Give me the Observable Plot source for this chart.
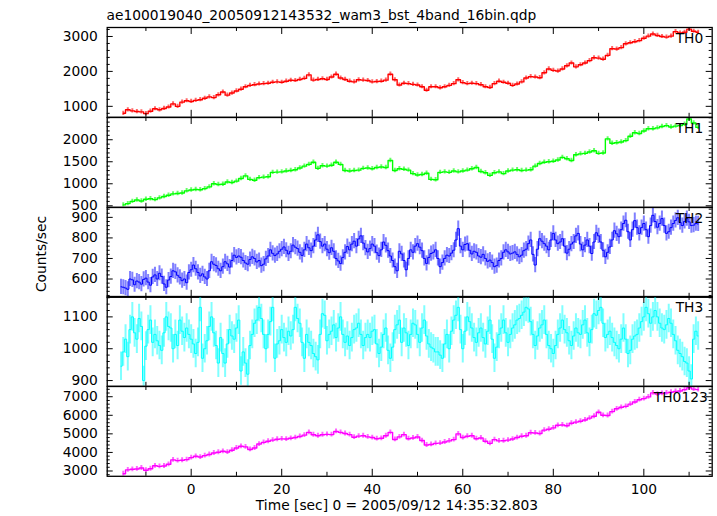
<!DOCTYPE html>
<html><head><meta charset="utf-8">
<script src="https://cdn.jsdelivr.net/npm/d3@7"></script>
<script src="https://cdn.jsdelivr.net/npm/@observablehq/plot@0.6"></script>
<style>
body{margin:0;background:#fff;}
#chart{position:relative;width:717px;height:516px;overflow:hidden;font-family:"DejaVu Sans",sans-serif;font-size:13.8px;color:#000;background:#fff;}
.txt{position:absolute;white-space:nowrap;line-height:1;}
.panel{position:absolute;left:0;}
</style></head><body><div id="chart"></div>
<script>
const titleText = "ae100019040_20050912143532_wam3_bst_4band_16bin.qdp";
const xLabel = "Time [sec] 0 = 2005/09/12 14:35:32.803";
const yLabel = "Counts/sec";
const panelNames = ["TH0", "TH1", "TH2", "TH3", "TH0123"];
const panelColors = ["#ff0000", "#00ff00", "#0000ff", "#00ffff", "#ff00ff"];
const xTicks = [0, 20, 40, 60, 80, 100];
const xMinorTicks = [-10, 10, 30, 50, 70, 90, 110];
const yTicks = [[1000, 2000, 3000], [500, 1000, 1500, 2000], [600, 700, 800, 900], [900, 1000, 1100], [3000, 4000, 5000, 6000, 7000]];
const yMinorStep = [200, 100, 20, 20, 200];
const yDomains = [[686, 3257], [466, 2505], [511, 948], [882, 1164], [2714, 7551]];
const xDomain = [-18.55, 115.1];
const binStart = [-15, -15, -15.5, -15.5, -15];
const binWidth = [1, 1, 0.5, 0.5, 1];
const rateErr = [60, 50, 37, 45, 130];

const th0 = [
 800, 900, 870, 850, 840, 790, 860, 930, 900, 940,
 980, 1070, 1000, 1120, 1160, 1140, 1170, 1190, 1230, 1270,
 1250, 1330, 1410, 1320, 1380, 1440, 1490, 1560, 1600, 1620,
 1640, 1650, 1660, 1690, 1700, 1690, 1720, 1745, 1740, 1770,
 1800, 1900, 1750, 1770, 1790, 1770, 1840, 1920, 1810, 1770,
 1720, 1700, 1760, 1750, 1740, 1700, 1710, 1720, 1750, 1920,
 1760, 1610, 1660, 1650, 1630, 1610, 1560, 1460, 1560, 1560,
 1530, 1560, 1600, 1650, 1760, 1680, 1650, 1660, 1650, 1620,
 1560, 1540, 1650, 1720, 1690, 1660, 1600, 1640, 1700, 1810,
 1850, 1840, 1820, 1960, 2070, 2030, 2010, 2070, 2160, 2240,
 2130, 2190, 2240, 2310, 2390, 2380, 2350, 2460, 2650, 2640,
 2680, 2790, 2820, 2850, 2880, 2950, 3010, 3070, 3030, 3000,
 2980, 3010, 3140, 3100, 3120, 3210, 3150, 3120];

const th1 = [
 520, 550, 600, 630, 610, 650, 660, 640, 680, 710,
 740, 770, 780, 790, 840, 860, 870, 865, 890, 930,
 1000, 985, 990, 1040, 1030, 1060, 1120, 1180, 1100, 1080,
 1140, 1150, 1160, 1260, 1265, 1270, 1290, 1300, 1320, 1360,
 1400, 1440, 1490, 1350, 1410, 1400, 1420, 1490, 1440, 1300,
 1290, 1300, 1310, 1350, 1360, 1340, 1370, 1380, 1370, 1530,
 1300, 1340, 1330, 1310, 1230, 1200, 1210, 1240, 1100, 1090,
 1260, 1270, 1260, 1290, 1270, 1290, 1310, 1340, 1370, 1280,
 1250, 1190, 1250, 1270, 1230, 1290, 1310, 1320, 1300, 1310,
 1320, 1400, 1460, 1490, 1500, 1510, 1540, 1600, 1570, 1530,
 1660, 1680, 1690, 1720, 1750, 1690, 1700, 2020, 1920, 1930,
 1950, 1980, 2080, 2160, 2140, 2200, 2250, 2250, 2270, 2300,
 2320, 2290, 2310, 2320, 2350, 2470, 2380, 2280];

const th2 = [
 562, 560, 556, 550, 600, 596, 572, 590, 585, 575,
 598, 604, 585, 570, 610, 620, 600, 628, 612, 576,
 560, 595, 612, 640, 635, 618, 608, 592, 600, 582,
 632, 645, 668, 650, 632, 615, 625, 610, 600, 640,
 684, 672, 666, 650, 640, 660, 684, 674, 658, 690,
 716, 705, 712, 706, 690, 678, 672, 695, 708, 700,
 683, 690, 665, 672, 698, 712, 742, 725, 714, 722,
 735, 745, 756, 740, 722, 735, 765, 755, 748, 730,
 715, 742, 770, 752, 738, 760, 790, 815, 782, 760,
 770, 745, 728, 752, 735, 700, 688, 675, 705, 730,
 758, 742, 770, 784, 760, 795, 810, 775, 750, 732,
 748, 770, 760, 728, 714, 742, 780, 764, 738, 712,
 690, 660, 640, 735, 722, 690, 645, 700, 742, 730,
 760, 772, 755, 738, 700, 676, 705, 724, 730, 742,
 700, 660, 680, 700, 716, 712, 726, 740, 790, 845,
 760, 742, 768, 772, 740, 722, 735, 730, 712, 706,
 720, 700, 686, 692, 680, 660, 665, 690, 700, 730,
 742, 732, 722, 726, 732, 720, 708, 716, 738, 745,
 772, 790, 720, 668, 745, 796, 784, 772, 760, 742,
 790, 822, 790, 772, 780, 796, 760, 726, 745, 770,
 780, 810, 822, 770, 742, 765, 790, 760, 724, 780,
 825, 810, 780, 740, 708, 730, 756, 790, 835, 820,
 806, 840, 870, 886, 830, 790, 840, 884, 850, 822,
 850, 870, 840, 806, 860, 910, 880, 852, 870, 894,
 860, 822, 830, 850, 870, 885, 898, 875, 860, 880,
 894, 878, 860, 862, 870, 868];

const th3 = [
 945, 990, 1030, 975, 1060, 1100, 1050, 1030, 1095, 1070,
 900, 1008, 1060, 1090, 1020, 1045, 1025, 1010, 995, 1050,
 1100, 1070, 1065, 1000, 1045, 1010, 1090, 1055, 1035, 1065,
 1045, 1030, 1015, 985, 1020, 1130, 970, 1000, 1025, 1070,
 1100, 1050, 1010, 955, 1035, 985, 955, 1015, 1060, 1040,
 1030, 1065, 1090, 930, 990, 955, 920, 1010, 1045, 1080,
 1090, 1130, 1095, 1045, 1000, 1045, 1085, 1130, 970, 1015,
 1025, 1060, 1035, 1020, 1055, 1040, 1060, 1130, 1095, 1080,
 1020, 970, 1045, 1020, 1010, 985, 975, 965, 1045, 1110,
 1105, 1025, 1045, 1055, 1075, 1035, 1065, 1100, 1045, 1020,
 1040, 1010, 1035, 1060, 1065, 1080, 1045, 1010, 1035, 1045,
 1035, 1055, 1060, 1015, 985, 1005, 1045, 1065, 995, 970,
 1005, 1060, 1075, 1090, 1020, 1065, 1050, 1010, 1045, 1080,
 1075, 1045, 1020, 1065, 1090, 1040, 1015, 1005, 1000, 990,
 990, 980, 970, 1015, 1045, 1000, 1055, 1090, 1105, 1130,
 1060, 1000, 1055, 1100, 1085, 1065, 1035, 1020, 1050, 1065,
 1035, 1015, 1055, 1090, 1030, 970, 1005, 1045, 1065, 1090,
 1050, 1020, 1045, 1065, 1075, 1090, 1095, 1105, 1115, 1130,
 1125, 1085, 1045, 1010, 1040, 1065, 1075, 1090, 1045, 1010,
 1000, 985, 1010, 1045, 1065, 1090, 1060, 1050, 1025, 1010,
 1040, 1065, 1050, 1045, 1075, 1090, 1050, 1020, 1060, 1110,
 1105, 1120, 1130, 1080, 1035, 1045, 1055, 1035, 1020, 1010,
 1000, 1030, 1065, 1030, 985, 995, 1030, 1040, 1045, 1065,
 1085, 1100, 1130, 1110, 1080, 1100, 1120, 1100, 1080, 1065,
 1060, 1075, 1095, 1080, 1045, 1025, 995, 985, 975, 960,
 955, 930, 905, 1030, 1055, 1040];

const th0123 = [
 2850, 3060, 3090, 3110, 3160, 3040, 3120, 3280, 3250, 3270,
 3360, 3600, 3560, 3580, 3610, 3720, 3790, 3750, 3830, 3890,
 3970, 4010, 4060, 4020, 4120, 4240, 4330, 4300, 4160, 4240,
 4450, 4540, 4600, 4660, 4710, 4730, 4720, 4760, 4800, 4860,
 4930, 5080, 4950, 4900, 4950, 4970, 4960, 5130, 5080, 5020,
 4960, 4820, 4880, 4900, 4840, 4800, 4740, 4760, 4900, 5080,
 4700, 4840, 4960, 4740, 4780, 4830, 4640, 4400, 4430, 4490,
 4500, 4560, 4620, 4690, 5000, 4800, 4870, 4900, 4740, 4780,
 4600, 4490, 4690, 4620, 4630, 4660, 4720, 4800, 4870, 4900,
 5060, 5050, 5020, 5200, 5250, 5320, 5460, 5480, 5440, 5570,
 5630, 5680, 5750, 5850, 5950, 6160, 6000, 5990, 6200, 6350,
 6430, 6480, 6600, 6720, 6840, 6900, 6990, 7210, 7140, 7180,
 7210, 7240, 7280, 7310, 7380, 7490, 7410, 7380];

const seriesValues = [th0, th1, th2, th3, th0123];

// ---- layout ----
const W = 717;
const frameLeft = 106.7, frameRight = 711.7;
const frameTop = 27, frameBottom = 476;
const ph = (frameBottom - frameTop) / 5;
const pw = frameRight - frameLeft;
const pad = 14;
const labelDx = [-9, -9, -9, -9, -4.5];
const lineW = [1.4, 1.4, 1, 1, 1.4];
const errOp = [0.6, 0.6, 0.5, 0.5, 0.6];

const chart = document.getElementById("chart");

function addText(txt, css) {
  const d = document.createElement("div");
  d.className = "txt";
  d.textContent = txt;
  Object.assign(d.style, css);
  chart.appendChild(d);
}

for (let k = 0; k < 5; k++) {
  const rows = seriesValues[k].map((v, i) => ({
    t: binStart[k] + i * binWidth[k], v, lo: v - rateErr[k], hi: v + rateErr[k]
  }));
  const [y0, y1] = yDomains[k];
  const minor = d3.range(Math.ceil(y0 / yMinorStep[k]) * yMinorStep[k], y1, yMinorStep[k])
    .filter(v => !yTicks[k].includes(v));
  const last = k === 4;
  const mb = last ? 40 : pad;
  const color = panelColors[k];
  const marks = [
    Plot.ruleX(rows, {x: "t", y1: "lo", y2: "hi", stroke: color, strokeOpacity: errOp[k], strokeWidth: 2, clip: true}),
    Plot.line(rows, {x: "t", y: "v", curve: "step", stroke: color, strokeWidth: lineW[k], clip: true}),
    Plot.tickX(xTicks, {x: d => d, insetBottom: ph - 7, stroke: "black"}),
    Plot.tickX(xTicks, {x: d => d, insetTop: ph - 7, stroke: "black"}),
    Plot.tickX(xMinorTicks, {x: d => d, insetBottom: ph - 4, stroke: "black"}),
    Plot.tickX(xMinorTicks, {x: d => d, insetTop: ph - 4, stroke: "black"}),
    Plot.tickY(yTicks[k], {y: d => d, insetRight: pw - 6, stroke: "black"}),
    Plot.tickY(yTicks[k], {y: d => d, insetLeft: pw - 6, stroke: "black"}),
    Plot.tickY(minor, {y: d => d, insetRight: pw - 3, stroke: "black"}),
    Plot.tickY(minor, {y: d => d, insetLeft: pw - 3, stroke: "black"}),
    Plot.frame({stroke: "black", strokeWidth: 1.3}),
    Plot.axisY(yTicks[k], {anchor: "left", tickSize: 0, tickPadding: 9.5, tickFormat: "d", label: null}),
    Plot.text([panelNames[k]], {frameAnchor: "top-right", text: d => d, lineAnchor: "top", dx: labelDx[k], dy: 5.5, fill: "black"})
  ];
  if (last) marks.push(Plot.axisX(xTicks, {anchor: "bottom", tickSize: 0, tickPadding: 7.5, tickFormat: "d", label: null}));
  const svg = Plot.plot({
    width: W,
    height: ph + pad + mb,
    marginLeft: frameLeft,
    marginRight: W - frameRight,
    marginTop: pad,
    marginBottom: mb,
    x: {domain: xDomain, axis: last ? undefined : null},
    y: {domain: yDomains[k]},
    style: {background: "transparent", overflow: "visible", fontFamily: "DejaVu Sans, sans-serif", fontSize: "13.8px", color: "black"},
    marks
  });
  svg.classList.add("panel");
  svg.style.top = (frameTop + k * ph - pad) + "px";
  svg.style.position = "absolute";
  svg.style.left = "0px";
  chart.appendChild(svg);
}

addText(titleText, {left: "106.5px", top: "9.3px"});
addText(xLabel, {left: "397px", top: "499px", transform: "translateX(-50%)"});
addText(yLabel, {left: "42.2px", top: "254px", transform: "translate(-50%,-50%) rotate(-90deg)"});
</script>
</body></html>
